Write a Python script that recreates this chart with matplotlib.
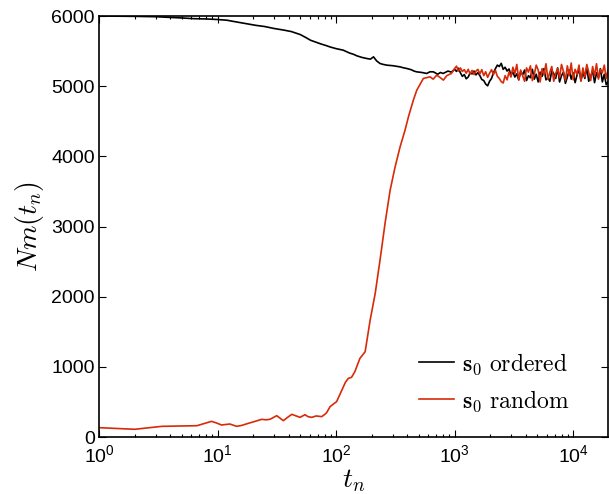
import numpy as np
import matplotlib
matplotlib.use("Agg")
import matplotlib.pyplot as plt
from matplotlib.ticker import LogLocator, FixedLocator, NullFormatter

plt.rcParams['font.family'] = ['Liberation Sans', 'DejaVu Sans']
plt.rcParams['mathtext.fontset'] = 'custom'
plt.rcParams['mathtext.rm'] = 'Liberation Sans'
plt.rcParams['mathtext.it'] = 'Liberation Sans:italic'
plt.rcParams['mathtext.bf'] = 'Liberation Sans:bold'

# ---------------- data ----------------
t_ordered_head = [1, 2, 3, 5, 6.3, 8, 10, 12, 13.5, 17, 21, 25, 30, 36, 42, 50, 56, 61, 68, 75,
                  82, 89, 100, 115, 130, 140, 150, 165, 182, 195, 207, 220, 235, 250, 269, 300,
                  325, 347, 370, 395, 430, 455, 480, 530, 582, 620, 663, 720, 760, 800, 880, 940]
m_ordered_head = [6000, 5995, 5990, 5972, 5962, 5958, 5950, 5940, 5924, 5895, 5867, 5850, 5822,
                  5800, 5778, 5735, 5690, 5654, 5625, 5600, 5580, 5559, 5535, 5513, 5472, 5455,
                  5432, 5410, 5394, 5385, 5418, 5360, 5323, 5310, 5299, 5292, 5282, 5275, 5262,
                  5252, 5235, 5215, 5204, 5195, 5181, 5205, 5204, 5170, 5195, 5181, 5215, 5200]

t_random_head = [1, 2, 3.4, 6.7, 8, 8.9, 9.8, 10.8, 12.7, 14.5, 16, 18.2, 20, 23.6, 25.5, 27.7,
                 31.6, 35.9, 39, 42.3, 46, 49.7, 54.7, 58, 62.3, 68, 75.7, 80, 83.3, 89, 95, 101,
                 112, 120, 127, 135, 144, 159, 176, 194, 214, 235, 259, 286, 315, 347, 382, 408,
                 449, 480, 545, 621, 660, 707, 760, 804, 860, 940]
m_random_head = [133, 110, 152, 161, 200, 223, 200, 171, 185, 152, 165, 195, 215, 252, 245, 252,
                 304, 233, 280, 323, 300, 280, 318, 290, 280, 300, 290, 320, 347, 432, 470, 503,
                 670, 780, 836, 850, 930, 1121, 1215, 1667, 2047, 2521, 3044, 3518, 3850, 4135,
                 4373, 4563, 4801, 4943, 5110, 5133, 5100, 5157, 5120, 5086, 5150, 5181]

t_tail = [1000, 1038, 1078, 1120, 1163, 1208, 1254, 1303, 1353, 1405, 1459, 1515, 1574, 1634,
          1697, 1763, 1830, 1901, 1974, 2050, 2129, 2211, 2296, 2384, 2476, 2571, 2670, 2773,
          2880, 2991, 3106, 3225, 3349, 3478, 3612, 3751, 3896, 4046, 4201, 4363, 4531, 4705,
          4886, 5074, 5270, 5473, 5683, 5902, 6129, 6365, 6610, 6865, 7129, 7403, 7688, 7984,
          8292, 8611, 8942, 9286, 9644, 10015, 10400, 10801, 11216, 11648, 12097, 12562, 13046,
          13548, 14070, 14611, 15174, 15758, 16365, 16995, 17649, 18329, 19035, 19700]
m_ordered_tail = [5240, 5210, 5255, 5190, 5140, 5165, 5105, 5130, 5190, 5175,
                  5215, 5160, 5195, 5150, 5095, 5080, 5030, 5005, 5070, 5110,
                  5190, 5250, 5300, 5280, 5325, 5240, 5270, 5215, 5245, 5160,
                  5200, 5130, 5175, 5090, 5210, 5160, 5230, 5080, 5150, 5120,
                  5240, 5100, 5170, 5060, 5200, 5140, 5250, 5090, 5120, 5070,
                  5220, 5180, 5110, 5260, 5060, 5150, 5200, 5040, 5130, 5230,
                  5100, 5190, 5050, 5160, 5240, 5080, 5200, 5110, 5270, 5070,
                  5140, 5220, 5050, 5190, 5120, 5250, 5060, 5170, 5020, 5060]
m_random_tail = [5250, 5285, 5215, 5260, 5210, 5235, 5185, 5240, 5175, 5225,
                 5165, 5215, 5240, 5175, 5235, 5150, 5205, 5125, 5185, 5235,
                 5165, 5225, 5140, 5110, 5065, 5045, 5150, 5090, 5200, 5130,
                 5270, 5180, 5310, 5090, 5230, 5150, 5070, 5260, 5200, 5290,
                 5080, 5170, 5300, 5230, 5060, 5250, 5160, 5320, 5100, 5200,
                 5280, 5070, 5180, 5250, 5120, 5310, 5210, 5080, 5290, 5150,
                 5330, 5090, 5240, 5170, 5300, 5070, 5260, 5130, 5310, 5200,
                 5080, 5280, 5150, 5320, 5100, 5240, 5190, 5300, 5110, 5230]

series_labels = [r'$\mathbf{s_0}\ \mathrm{ordered}$', r'$\mathbf{s_0}\ \mathrm{random}$']
y_ticks = [0, 1000, 2000, 3000, 4000, 5000, 6000]

# ---------------- plot ----------------
fig = plt.figure(figsize=(6.09, 4.94), dpi=100)
ax = fig.add_axes([99/609, 1-437/494, 509/609, 421/494])

ax.plot(t_ordered_head + t_tail, m_ordered_head + m_ordered_tail, color='black', lw=1.2,
        label=series_labels[0])
ax.plot(t_random_head + t_tail, m_random_head + m_random_tail, color='#d82a08', lw=1.2,
        label=series_labels[1])

ax.set_xscale('log')
ax.set_xlim(1, 19700)
ax.set_ylim(0, 6000)
ax.set_yticks(y_ticks)
ax.yaxis.set_minor_locator(FixedLocator([]))
ax.xaxis.set_major_locator(LogLocator(base=10, numticks=10))
ax.xaxis.set_minor_locator(LogLocator(base=10, subs=np.arange(2, 10), numticks=20))
ax.xaxis.set_minor_formatter(NullFormatter())

ax.tick_params(which='both', direction='in', top=True, right=True, labelsize=14,
               width=0.8, colors='black')
ax.tick_params(which='major', length=5)
ax.tick_params(which='minor', length=2.5)
ax.tick_params(axis='x', pad=5)
ax.tick_params(axis='y', pad=3)
for sp in ax.spines.values():
    sp.set_linewidth(1.2)

ax.set_xlabel(r'$t_n$', fontsize=20, math_fontfamily='cm', labelpad=1)
ax.set_ylabel(r'$Nm(t_n)$', fontsize=20, math_fontfamily='cm', labelpad=4)

leg = ax.legend(loc='lower right', frameon=False, fontsize=17, handlelength=1.5,
                handletextpad=0.35, labelspacing=0.5, borderpad=0, borderaxespad=0,
                bbox_to_anchor=(0.925, 0.055))
for txt in leg.get_texts():
    txt.set_math_fontfamily('cm')

fig.savefig('out.png', dpi=100)
